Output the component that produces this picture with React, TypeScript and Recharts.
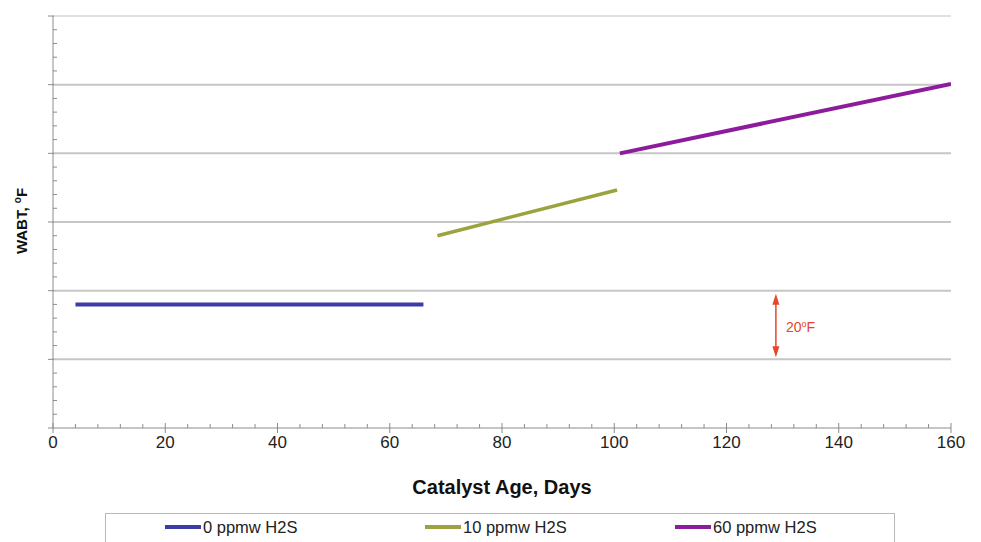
import React from 'react';
import { LineChart, Line, XAxis, YAxis, CartesianGrid, ReferenceLine, Legend } from 'recharts';

// ---- data ----
const xTicks = [0, 4, 8, 12, 16, 20, 24, 28, 32, 36, 40, 44, 48, 52, 56, 60, 64, 68, 72, 76, 80, 84, 88, 92, 96, 100, 104, 108, 112, 116, 120, 124, 128, 132, 136, 140, 144, 148, 152, 156, 160];
const yTicks = [0, 4, 8, 12, 16, 20, 24, 28, 32, 36, 40, 44, 48, 52, 56, 60, 64, 68, 72, 76, 80, 84, 88, 92, 96, 100, 104, 108, 112, 116, 120];
const gridValues = [20, 40, 60, 80, 100];
const topValue = 120;

const h2s0 = [
  { day: 4, wabt: 36 },
  { day: 66, wabt: 36 },
];
const h2s10 = [
  { day: 68.5, wabt: 56 },
  { day: 100.5, wabt: 69.3 },
];
const h2s60 = [
  { day: 101, wabt: 80 },
  { day: 160, wabt: 100.2 },
];

const seriesNames = ['0 ppmw H2S', '10 ppmw H2S', '60 ppmw H2S'];
const seriesColors = ['#3c3ca6', '#9ca33e', '#8c1c9c'];

const arrowDay = 128.8;
const arrowFrom = 20;
const arrowTo = 40;

const FONT = '"Liberation Sans", Arial, Helvetica, sans-serif';

const XTick = (props: any) => {
  const { x, y, payload } = props;
  const v = payload.value;
  const major = v % 20 === 0;
  return (
    <g>
      <line x1={x} x2={x} y1={major ? y - 5 : y - 4} y2={major ? y + 5 : y} stroke="#8c8c8c" strokeWidth={1} />
      {major && (
        <text x={x} y={y + 20} textAnchor="middle" fontSize={17} fill="#222" fontFamily={FONT}>
          {v}
        </text>
      )}
    </g>
  );
};

const YTick = (props: any) => {
  const { x, y, payload } = props;
  const v = payload.value;
  const major = v % 20 === 0;
  return (
    <line x1={major ? x - 5 : x} x2={major ? x + 1 : x + 4} y1={y} y2={y} stroke="#8c8c8c" strokeWidth={1} />
  );
};

const renderYLabel = () => (
  <text
    x={27}
    y={221}
    transform="rotate(-90, 27, 221)"
    textAnchor="middle"
    fontSize={15}
    fontWeight="bold"
    fill="#111"
    fontFamily={FONT}
  >
    WABT,{' '}
    <tspan dy={-6} fontSize={10}>o</tspan>
    <tspan dy={6} fontSize={15}>F</tspan>
  </text>
);

const renderXLabel = (props: any) => {
  const vb = props.viewBox || { x: 53, y: 428, width: 898, height: 85 };
  return (
    <text
      x={vb.x + vb.width / 2}
      y={vb.y + 66}
      textAnchor="middle"
      fontSize={20}
      fontWeight="bold"
      fill="#111"
      fontFamily={FONT}
    >
      Catalyst Age, Days
    </text>
  );
};

const ArrowShape = (props: any) => {
  const { x1, y1, x2, y2 } = props;
  const x = x1;
  const top = Math.min(y1, y2) + 3;
  const bot = Math.max(y1, y2) - 2;
  const red = '#e8452a';
  return (
    <g>
      <line x1={x} x2={x2} y1={top + 6} y2={bot - 6} stroke={red} strokeWidth={1.5} />
      <polygon points={`${x},${top} ${x - 3.5},${top + 11} ${x + 3.5},${top + 11}`} fill={red} />
      <polygon points={`${x},${bot} ${x - 3.5},${bot - 11} ${x + 3.5},${bot - 11}`} fill={red} />
      <text x={x + 10} y={(top + bot) / 2 + 6} fontSize={14} fill={red} fontFamily={FONT}>
        20
        <tspan dy={-5} fontSize={9}>o</tspan>
        <tspan dy={5} fontSize={14}>F</tspan>
      </text>
    </g>
  );
};

const legendLefts = [60, 320, 570];

const LegendBox = () => (
  <div style={{ position: 'relative', width: 790, height: 29, overflow: 'hidden' }}>
    <div
      style={{
        position: 'absolute',
        left: 0,
        top: 0,
        width: 788,
        height: 40,
        border: '1px solid #b8b8b8',
        background: '#fff',
      }}
    />
    {seriesNames.map((name, i) => (
      <div
        key={name}
        style={{
          position: 'absolute',
          left: legendLefts[i],
          top: 5,
          height: 18,
          display: 'flex',
          alignItems: 'center',
          whiteSpace: 'nowrap',
        }}
      >
        <span style={{ display: 'inline-block', width: 36, height: 4, background: seriesColors[i] }} />
        <span style={{ fontFamily: FONT, fontSize: 16.5, color: '#222', marginLeft: 2 }}>{name}</span>
      </div>
    ))}
  </div>
);

export default function App() {
  return (
    <div style={{ position: 'absolute', left: 0, top: 0, width: 981, height: 542, background: '#fff' }}>
      <LineChart width={981} height={542} margin={{ top: 16, right: 30, left: 0, bottom: 0 }}>
        <CartesianGrid vertical={false} horizontalValues={gridValues} stroke="#c6c6c6" strokeWidth={2} />
        <ReferenceLine y={topValue} stroke="#e0e0e0" strokeWidth={2} />
        <XAxis
          dataKey="day"
          type="number"
          domain={[0, 160]}
          ticks={xTicks}
          interval={0}
          height={85}
          tickSize={0}
          tickMargin={0}
          tickLine={false}
          tick={<XTick />}
          axisLine={{ stroke: '#8c8c8c' }}
          label={{ value: 'Catalyst Age, Days', content: renderXLabel }}
          allowDataOverflow
        />
        <YAxis
          type="number"
          domain={[0, 120]}
          ticks={yTicks}
          interval={0}
          width={53}
          tickSize={0}
          tickMargin={0}
          tickLine={false}
          tick={<YTick />}
          axisLine={{ stroke: '#8c8c8c' }}
          label={{ value: 'WABT, °F', content: renderYLabel }}
          allowDataOverflow
        />
        <Legend
          verticalAlign="bottom"
          height={29}
          content={<LegendBox />}
          wrapperStyle={{ left: 105, top: 513, bottom: 'auto', width: 790, height: 29 }}
        />
        <Line
          data={h2s0}
          dataKey="wabt"
          name={seriesNames[0]}
          stroke={seriesColors[0]}
          strokeWidth={4}
          dot={false}
          activeDot={false}
          isAnimationActive={false}
        />
        <Line
          data={h2s10}
          dataKey="wabt"
          name={seriesNames[1]}
          stroke={seriesColors[1]}
          strokeWidth={3.5}
          dot={false}
          activeDot={false}
          isAnimationActive={false}
        />
        <Line
          data={h2s60}
          dataKey="wabt"
          name={seriesNames[2]}
          stroke={seriesColors[2]}
          strokeWidth={4}
          dot={false}
          activeDot={false}
          isAnimationActive={false}
        />
        <ReferenceLine
          segment={[
            { x: arrowDay, y: arrowFrom },
            { x: arrowDay, y: arrowTo },
          ]}
          shape={(p: any) => <ArrowShape {...p} />}
        />
      </LineChart>
    </div>
  );
}
